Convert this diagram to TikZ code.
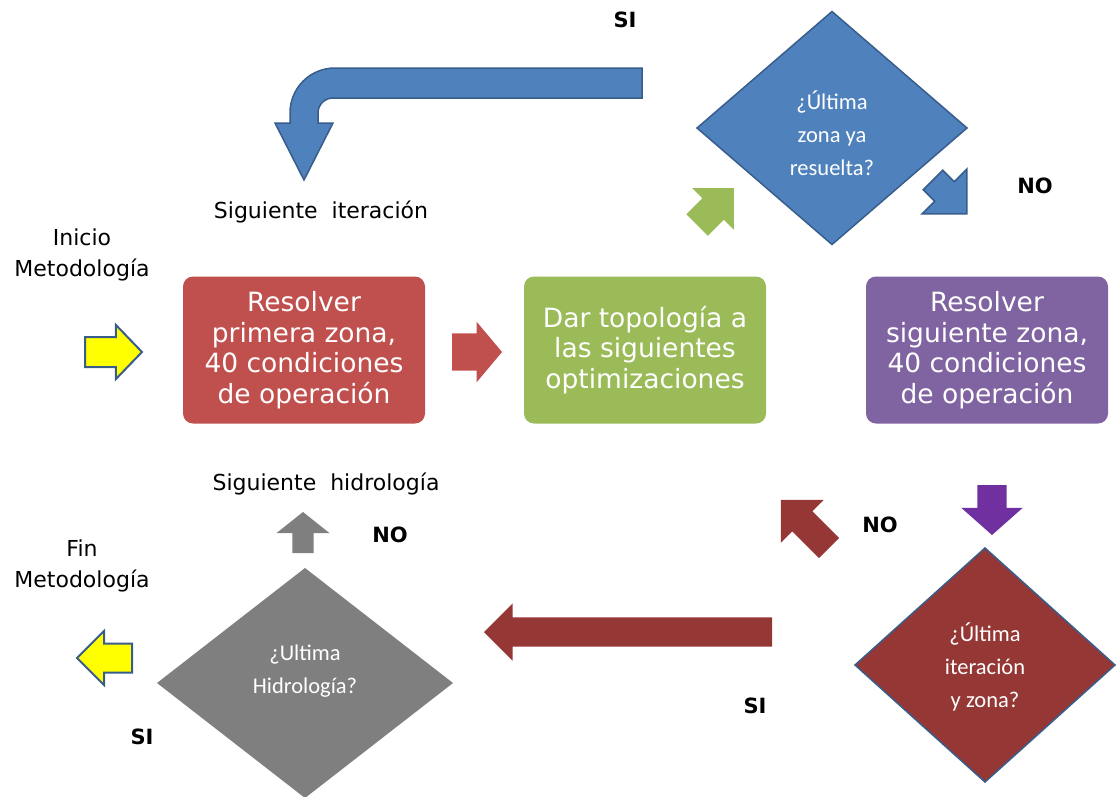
\documentclass[tikz,border=0pt]{standalone}
\usepackage{fontspec}
\setmainfont{DejaVu Sans}
\newfontfamily\qfont{Carlito}
\usetikzlibrary{shapes.geometric,shapes.arrows}
\begin{document}
\begin{tikzpicture}[x=1pt,y=-1pt,
  stepbox/.style={rounded corners=10, text=white, align=center, inner sep=0,
    minimum width=242, minimum height=147, font=\fontsize{26.5}{30.5}\selectfont},
  qdiamond/.style={diamond, inner sep=0, outer sep=0},
  qtext/.style={text=white, align=center, inner sep=0, font=\qfont\fontsize{22.5}{33}\selectfont},
  lbl/.style={align=center, inner sep=0, font=\fontsize{22}{31}\selectfont},
  yesno/.style={inner sep=0, font=\bfseries\fontsize{21}{21}\selectfont},
  blockarr/.style={single arrow, inner sep=0, outer sep=0, text depth=0pt, anchor=tail}]
\useasboundingbox (0,0) rectangle (1117,796);
\definecolor{custcol_4f_81_bd}{RGB}{79, 129, 189}
\definecolor{custcol_38_5d_8a}{RGB}{56, 93, 138}
\definecolor{custcol_c0_50_4d}{RGB}{192, 80, 77}
\definecolor{custcol_9b_bb_59}{RGB}{155, 187, 89}
\definecolor{custcol_80_64_a2}{RGB}{128, 100, 162}
\definecolor{custcol_95_37_35}{RGB}{149, 55, 53}
\definecolor{custcol_7f_7f_7f}{RGB}{127, 127, 127}
\definecolor{custcol_70_30_a0}{RGB}{112, 48, 160}
\definecolor{custcol_ff_ff_00}{RGB}{255, 255, 0}
% pasos
\node[stepbox, fill=custcol_c0_50_4d] (bprim) at (304,350) {Resolver\\primera zona,\\40 condiciones\\de operación};
\node[stepbox, fill=custcol_9b_bb_59] (btopo) at (645,350) {Dar topología a\\las siguientes\\optimizaciones};
\node[stepbox, fill=custcol_80_64_a2] (bsig) at (987,350) {Resolver\\siguiente zona,\\40 condiciones\\de operación};
% preguntas
\node[qdiamond, fill=custcol_4f_81_bd, draw=custcol_38_5d_8a, line width=1.5pt, minimum width=270, minimum height=233] (dzona) at (832,128) {};
\node[qdiamond, fill=custcol_95_37_35, draw=custcol_38_5d_8a, line width=1.5pt, minimum width=260, minimum height=234] (diter) at (985,665) {};
\node[qdiamond, fill=custcol_7f_7f_7f, minimum width=296, minimum height=230] (dhidro) at (305,683) {};
\node[qtext] (tzona) at (832,133) {¿Última\\zona ya\\resuelta?};
\node[qtext] (titer) at (985,667) {¿Última\\iteración\\y zona?};
\node[qtext] (thidro) at (305,671) {¿Ultima\\Hidrología?};
% flechas
\filldraw [fill=custcol_4f_81_bd, draw=custcol_38_5d_8a, line width=1.5pt] (642,68) -- (335,68) .. controls (310,68) and (290,88) .. (290,113) -- (290,123) -- (275,123) -- (304,180) -- (333,123) -- (318,123) -- (318,113) .. controls (318,104.7) and (324.7,98) .. (333,98) -- (642,98) -- cycle;
\node[blockarr, fill=custcol_ff_ff_00, draw=custcol_38_5d_8a, line width=2pt, minimum height=57, text height=28, single arrow head extend=12, single arrow tip angle=92] (ainicio) at (85,352) {};
\node[blockarr, fill=custcol_c0_50_4d, minimum height=50, text height=37, single arrow head extend=11.5, single arrow tip angle=100] (aprim) at (452,352) {};
\node[blockarr, fill=custcol_9b_bb_59, rotate=45, minimum height=52, text height=30, single arrow head extend=14, single arrow tip angle=90] (atopo) at (697,225) {};
\node[blockarr, fill=custcol_4f_81_bd, draw=custcol_38_5d_8a, line width=1.5pt, rotate=-45, minimum height=48, text height=26, single arrow head extend=18, single arrow tip angle=90] (azona) at (933,180) {};
\node[blockarr, fill=custcol_70_30_a0, rotate=-90, minimum height=50, text height=29, single arrow head extend=16, single arrow tip angle=97] (asig) at (992,485) {};
\node[blockarr, fill=custcol_95_37_35, rotate=135, minimum height=68, text height=28, single arrow head extend=16, single arrow tip angle=90] (aiterno) at (829,548) {};
\node[blockarr, fill=custcol_95_37_35, rotate=180, minimum height=288, text height=29, single arrow head extend=14, single arrow tip angle=90] (aitersi) at (772,632) {};
\node[blockarr, fill=custcol_7f_7f_7f, rotate=90, minimum height=41, text height=21, single arrow head extend=16, single arrow tip angle=103] (ahidro) at (303,553) {};
\node[blockarr, fill=custcol_ff_ff_00, draw=custcol_38_5d_8a, line width=2pt, rotate=180, minimum height=55, text height=27, single arrow head extend=12.5, single arrow tip angle=90] (afin) at (132,658) {};
% textos
\node[lbl] (linicio) at (82,255) {Inicio\\Metodología};
\node[lbl] (lfin) at (82,566) {Fin\\Metodología};
\node[lbl] (lsigit) at (321,212) {Siguiente\ \ iteración};
\node[lbl] (lsighid) at (326,484) {Siguiente\ \ hidrología};
\node[yesno] (sizona) at (625,20) {SI};
\node[yesno] (nozona) at (1035,186) {NO};
\node[yesno] (noiter) at (880,525) {NO};
\node[yesno] (siiter) at (755,706) {SI};
\node[yesno] (nohidro) at (390,535) {NO};
\node[yesno] (sihidro) at (142,737) {SI};
\end{tikzpicture}
\end{document}
